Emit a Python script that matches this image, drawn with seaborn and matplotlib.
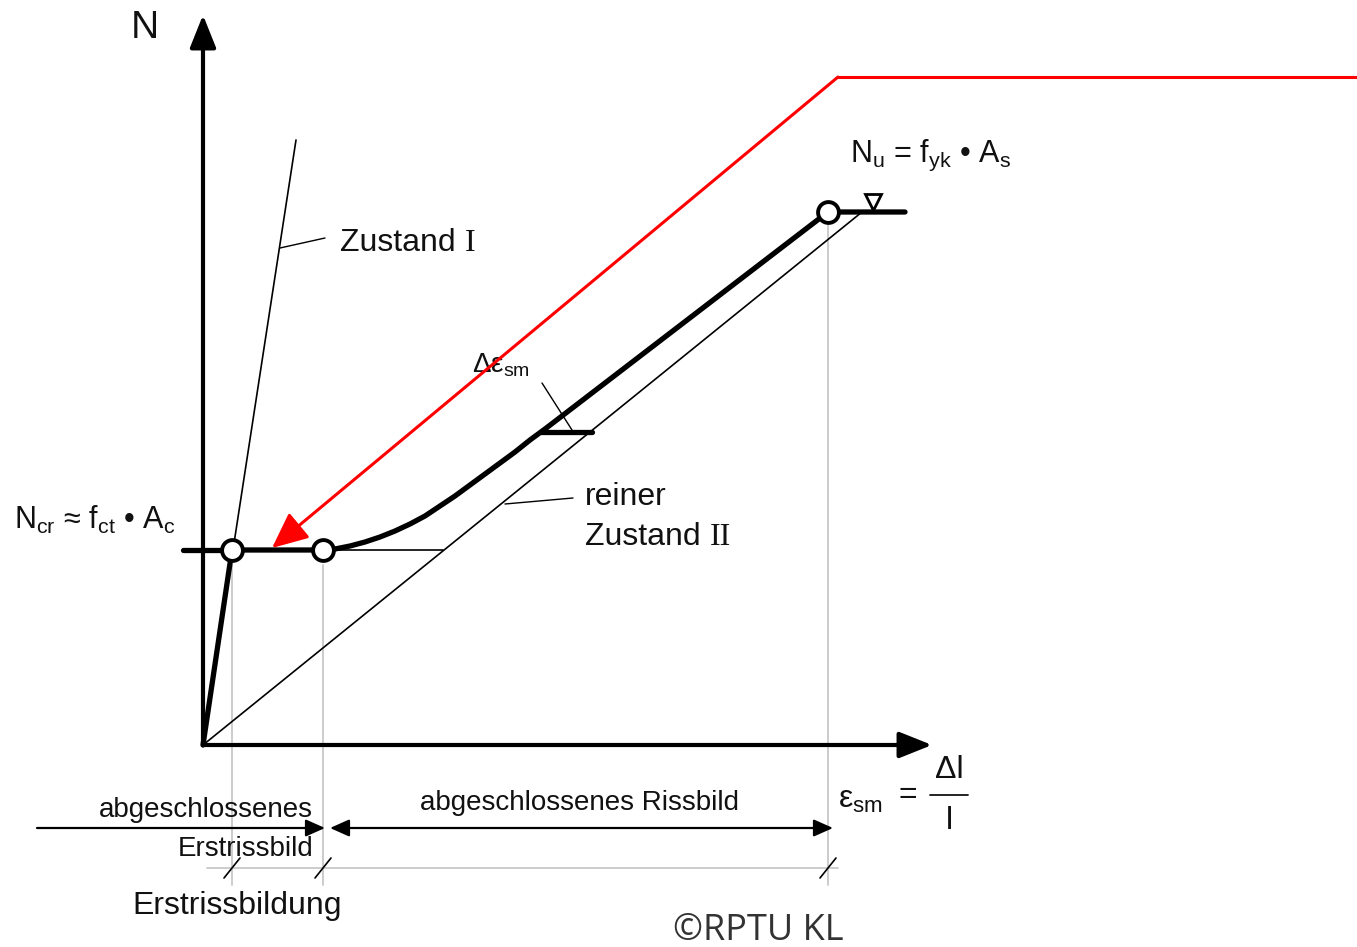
# Stress-strain diagram of a reinforced concrete tension member (Zustand I / II)
import matplotlib
matplotlib.use("Agg")
import matplotlib.pyplot as plt
import seaborn as sns

# === Values ===
# eps = strain to the right, N = force upwards, origin where the two axes cross
zustand1_eps = [0, 93]
zustand1_N = [0, 605]
zustand2_eps = [0, 659]
zustand2_N = [0, 533]
curve_eps = [0, 29, 120, 132, 147, 162, 177, 192, 207, 222, 237, 252, 267, 282,
             297, 312, 327, 342, 625, 702]
curve_N = [0, 195, 195, 196, 199, 203, 208, 214, 221, 229, 239, 249, 260, 271,
           282, 293, 305, 316, 533, 533]
crack_eps = [29, 120, 625]
crack_N = [195, 195, 533]
N_cr = 195
N_u = 533
ncr_tick_eps = [-20, 29]
ncr_thin_eps = [120, 240]
delta_eps = [338, 389]
delta_N = 313
red_eps = [1154, 635, 69]
red_N = [668, 668, 197]

sns.set_style("white")
plt.rcParams["font.family"] = ["Liberation Sans", "DejaVu Sans"]
plt.rcParams["mathtext.fontset"] = "custom"
plt.rcParams["mathtext.rm"] = "Liberation Sans"
plt.rcParams["mathtext.it"] = "Liberation Sans"

ink = "#111111"
grey = "#c8c8c8"

fig = plt.figure(figsize=(13.57, 9.47), dpi=100)
ax = fig.add_axes([0, 0, 1, 1])
ax.set_xlim(-203, 1154)
ax.set_ylim(-202, 745)
ax.axis("off")

# grey helper lines
for e in crack_eps:
    top = 180 if e < 600 else 520
    ax.plot([e, e], [top, -140], color=grey, lw=1.3, zorder=1)
ax.plot([4, 635], [-123, -123], color=grey, lw=1.3, zorder=1)
for e in crack_eps:
    ax.plot([e - 8, e + 8], [-133, -113], color="black", lw=1.2, zorder=2)

# axes with arrow heads
ax.annotate("", xy=(0, 730), xytext=(0, 0),
            arrowprops=dict(arrowstyle="-|>,head_length=1.0,head_width=0.4", lw=3,
                            color="black", mutation_scale=20, shrinkA=0, shrinkB=0))
ax.annotate("", xy=(729, 0), xytext=(0, 0),
            arrowprops=dict(arrowstyle="-|>,head_length=1.0,head_width=0.4", lw=3,
                            color="black", mutation_scale=20, shrinkA=0, shrinkB=0))

# Zustand I / reiner Zustand II
sns.lineplot(x=zustand1_eps, y=zustand1_N, ax=ax, color="black", lw=1.2,
             sort=False, estimator=None)
sns.lineplot(x=zustand2_eps, y=zustand2_N, ax=ax, color="black", lw=1.2,
             sort=False, estimator=None)
ax.plot(ncr_thin_eps, [N_cr, N_cr], color="black", lw=1.2)

# response curve
sns.lineplot(x=curve_eps, y=curve_N, ax=ax, color="black", lw=3.8,
             sort=False, estimator=None, zorder=4, solid_joinstyle="round")
ax.plot(ncr_tick_eps, [N_cr, N_cr], color="black", lw=3.8, zorder=4)
ax.plot(delta_eps, [delta_N, delta_N], color="black", lw=3.8, zorder=4)
ax.plot(crack_eps, crack_N, ls="none", marker="o", ms=15, mfc="white",
        mec="black", mew=2.8, zorder=5)
ax.plot([670], [N_u + 10], ls="none", marker="v", ms=12, mfc="white",
        mec="black", mew=2, zorder=5)

# leader lines
ax.plot([77, 122], [497, 507], color="black", lw=1.0)
ax.plot([339, 369], [362, 315], color="black", lw=1.0)
ax.plot([302, 370], [241, 247], color="black", lw=1.0)

# dimension arrows below the axis
ax.annotate("", xy=(122, -83), xytext=(-166, -83),
            arrowprops=dict(arrowstyle="-|>,head_length=0.9,head_width=0.4", lw=1.6,
                            color="black", mutation_scale=13, shrinkA=0, shrinkB=0))
ax.annotate("", xy=(630, -83), xytext=(127, -83),
            arrowprops=dict(arrowstyle="<|-|>,head_length=0.9,head_width=0.4", lw=1.6,
                            color="black", mutation_scale=13, shrinkA=0, shrinkB=0))

# red pointer
ax.plot(red_eps[:2], red_N[:2], color="red", lw=2.2, zorder=6)
ax.annotate("", xy=(red_eps[2], red_N[2]), xytext=(red_eps[1], red_N[1]),
            arrowprops=dict(arrowstyle="-|>,head_length=1.1,head_width=0.5", lw=2.2,
                            color="red", mutation_scale=20, shrinkA=0, shrinkB=0),
            zorder=6)

# texts
ax.text(-58, 717, "N", fontsize=28, color=ink, ha="center", va="center")
t = ax.text(137, 502, "Zustand", fontsize=23, color=ink, ha="left", va="center")
ax.annotate("I", xy=(1, 0), xycoords=t, xytext=(7, 0), textcoords="offset points",
            fontsize=23, color=ink, ha="left", va="bottom", family="Liberation Serif")
ax.text(269, 380, r"Δε$_\mathrm{sm}$", fontsize=20, color=ink, ha="left", va="center")
ax.text(382, 248, "reiner", fontsize=23, color=ink, ha="left", va="center")
t2 = ax.text(382, 208, "Zustand", fontsize=23, color=ink, ha="left", va="center")
ax.annotate("II", xy=(1, 0), xycoords=t2, xytext=(7, 0), textcoords="offset points",
            fontsize=23, color=ink, ha="left", va="bottom", family="Liberation Serif")
ax.text(-189, 225, r"N$_\mathrm{cr}$ ≈ f$_\mathrm{ct}$ • A$_\mathrm{c}$", fontsize=22,
        color=ink, ha="left", va="center")
ax.text(647, 590, r"N$_\mathrm{u}$ = f$_\mathrm{yk}$ • A$_\mathrm{s}$", fontsize=22,
        color=ink, ha="left", va="center")
ax.text(635, -55, r"ε$_\mathrm{sm}$", fontsize=23, color=ink, ha="left", va="center")
ax.text(705, -50, "=", fontsize=23, color=ink, ha="center", va="center")
ax.text(746, -25, "Δl", fontsize=23, color=ink, ha="center", va="center")
ax.plot([727, 765], [-50, -50], color=ink, lw=1.3)
ax.text(746, -76, "l", fontsize=23, color=ink, ha="center", va="center")
ax.text(110, -65, "abgeschlossenes", fontsize=20, color=ink, ha="right", va="center")
ax.text(110, -104, "Erstrissbild", fontsize=20, color=ink, ha="right", va="center")
ax.text(34, -161, "Erstrissbildung", fontsize=23, color=ink, ha="center", va="center")
ax.text(376, -58, "abgeschlossenes Rissbild", fontsize=20, color=ink,
        ha="center", va="center")
ax.text(470, -186, "©RPTU KL", fontsize=26, color="#333333", ha="left", va="center",
        family="Open Sans")

fig.savefig("out.png", dpi=100)
